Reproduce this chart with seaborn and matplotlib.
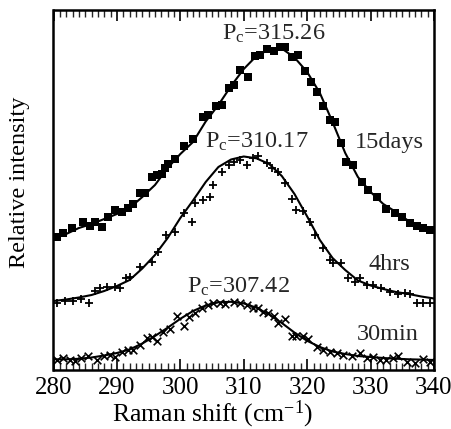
import numpy as np
import pandas as pd
import matplotlib
matplotlib.use("Agg")
import matplotlib.pyplot as plt
from matplotlib.ticker import MultipleLocator
import seaborn as sns

# ---------------- data ----------------
# 15 days: squares
x_15d = [280.5, 281.5, 282.9, 284.7, 285.8, 286.5, 287.6, 288.6, 289.7, 290.8,
         291.8, 292.6, 293.6, 294.4, 295.5, 296.3, 297.1, 297.6, 298.1, 299.2,
         300.6, 302.0, 303.5, 304.4, 305.7, 306.5, 307.6, 308.4, 309.4, 310.6,
         311.8, 312.6, 313.6, 314.7, 315.7, 316.5, 317.6, 318.6, 319.7, 320.6,
         321.5, 322.5, 323.6, 324.4, 325.4, 326.2, 327.3, 328.6, 329.6, 331.0,
         332.5, 333.8, 334.9, 336.2, 337.3, 338.3, 339.4]
y_15d = [132.7, 136.7, 141.7, 148.3, 144.0, 148.3, 143.3, 153.3, 160.0, 158.3,
         161.7, 166.0, 176.7, 176.7, 192.7, 195.0, 196.0, 201.7, 206.0, 210.7,
         224.0, 230.7, 252.7, 255.0, 264.0, 265.0, 281.7, 285.0, 300.0, 292.7,
         314.0, 315.0, 320.7, 319.3, 322.7, 323.3, 313.3, 315.0, 299.3, 288.3,
         278.3, 264.0, 250.0, 248.3, 226.7, 208.3, 205.0, 188.3, 180.0, 173.3,
         160.7, 156.7, 153.3, 146.7, 144.0, 141.7, 140.0]

# 4 hrs: plus signs
x_4h = [280.5, 281.8, 283.1, 284.4, 285.6, 286.5, 287.3, 288.4, 289.7, 290.5,
        291.4, 292.1, 293.6, 295.5, 296.5, 297.8, 299.2, 300.5, 301.8, 302.3,
        303.6, 304.7, 305.2, 306.5, 307.6, 308.4, 309.4, 310.5, 311.5, 312.3,
        313.6, 314.4, 315.4, 316.5, 317.6, 318.3, 319.4, 320.4, 321.2, 322.5,
        323.6, 324.1, 325.4, 326.5, 327.5, 328.3, 329.4, 330.4, 331.7, 333.1,
        334.4, 335.4, 336.2, 337.3, 338.3, 339.4]
y_4h = [67.3, 69.0, 69.3, 71.0, 67.3, 79.0, 81.7, 83.3, 83.3, 81.7,
        91.7, 93.3, 103.3, 108.3, 118.3, 135.0, 138.3, 156.7, 148.3, 166.7,
        170.0, 173.3, 185.0, 198.3, 205.0, 208.3, 210.0, 205.0, 211.7, 214.0,
        206.7, 201.7, 198.3, 187.3, 170.7, 160.0, 159.3, 148.3, 135.0, 121.7,
        110.0, 106.7, 106.7, 91.7, 88.3, 91.7, 85.0, 85.0, 81.7, 78.3,
        76.0, 77.3, 76.0, 67.3, 67.3, 67.3]

# 30 min: crosses
x_30m = [280.5, 281.5, 282.6, 283.4, 284.4, 285.5, 286.8, 287.9, 288.9, 289.7,
         290.8, 291.8, 292.6, 293.6, 294.7, 295.5, 296.3, 297.3, 298.4, 299.4,
         300.5, 301.3, 302.3, 303.4, 304.4, 305.2, 306.3, 307.0, 308.4, 309.4,
         310.5, 311.5, 312.3, 313.1, 313.9, 314.7, 315.4, 316.5, 317.6, 318.3,
         319.4, 320.2, 321.5, 322.5, 323.6, 324.7, 325.7, 327.0, 328.3, 329.4,
         330.4, 331.5, 332.5, 333.6, 334.4, 335.7, 337.0, 338.3, 339.4]
y_30m = [10.0, 11.7, 10.0, 9.3, 11.7, 14.0, 10.0, 14.0, 15.0, 13.3,
         18.3, 20.0, 20.0, 25.0, 31.7, 33.3, 29.3, 38.3, 40.7, 54.0,
         44.0, 53.3, 56.7, 61.7, 65.0, 67.3, 66.7, 66.0, 68.3, 67.3,
         65.0, 61.7, 61.7, 58.3, 57.3, 54.0, 47.3, 50.7, 34.0, 34.0,
         34.0, 30.7, 23.3, 20.0, 18.3, 17.3, 15.0, 14.0, 17.3, 11.7,
         13.3, 10.0, 10.0, 11.7, 14.0, 8.3, 7.3, 10.7, 8.3]

# fitted curves
fit_x = [280, 282, 284, 286, 288, 290, 292, 294, 296, 298, 300, 302, 304, 306,
         308, 310, 312, 314, 316, 318, 320, 322, 324, 326, 328, 330, 332, 334,
         336, 338, 340]
fit_15d = [132, 136, 142, 146, 151, 156, 162, 173, 185, 202, 216, 228, 248.5,
           265, 284, 301, 314, 320.5, 321.5, 312.5, 298, 277, 248, 217, 193,
           178, 166, 158, 149, 144, 140]
fit_4h = [69, 70.5, 72.5, 75, 79, 84, 90, 101.5, 115, 132, 152, 169.5, 188,
          203, 210.5, 213.5, 211.7, 206, 194, 176, 153.5, 130, 112, 100, 89.5,
          84.5, 81, 78, 76, 73.5, 71.5]
fit_30m = [10.7, 10.7, 11.2, 12.5, 14.5, 17, 20.5, 26.5, 34, 42.3, 51.2, 59,
           64.5, 67.7, 68.2, 66.6, 62.3, 55.5, 47, 37.4, 29.2, 23, 18.5, 16,
           14, 13, 12, 11.3, 10.7, 10.4, 10]

x_ticks = [280, 290, 300, 310, 320, 330, 340]

# ---------------- figure ----------------
sns.set_style("ticks")
plt.rcParams['font.family'] = ['Liberation Serif', 'DejaVu Serif']
plt.rcParams['mathtext.fontset'] = 'custom'
plt.rcParams['mathtext.rm'] = 'Liberation Serif'
plt.rcParams['mathtext.it'] = 'Liberation Serif:italic'

fig = plt.figure(figsize=(4.52, 4.29), dpi=100)
ax = fig.add_axes([53.5 / 452, 59 / 429, 380.5 / 452, 360 / 429])

pts = pd.concat([
    pd.DataFrame({'x': x_15d, 'y': y_15d, 's': '15days'}),
    pd.DataFrame({'x': x_4h, 'y': y_4h, 's': '4hrs'}),
    pd.DataFrame({'x': x_30m, 'y': y_30m, 's': '30min'}),
])
fits = pd.concat([
    pd.DataFrame({'x': fit_x, 'y': fit_15d, 's': '15days'}),
    pd.DataFrame({'x': fit_x, 'y': fit_4h, 's': '4hrs'}),
    pd.DataFrame({'x': fit_x, 'y': fit_30m, 's': '30min'}),
])

for s in ['15days', '4hrs', '30min']:
    sns.lineplot(data=fits[fits.s == s], x='x', y='y', color='black',
                 linewidth=1.5, ax=ax, legend=False, sort=True)

sns.scatterplot(data=pts[pts.s == '15days'], x='x', y='y', marker='s',
                color='black', s=30, linewidth=0, ax=ax, legend=False)
sns.scatterplot(data=pts[pts.s == '4hrs'], x='x', y='y', marker='+',
                color='black', s=40, linewidth=1.3, ax=ax, legend=False)
sns.scatterplot(data=pts[pts.s == '30min'], x='x', y='y', marker='x',
                color='black', s=30, linewidth=1.2, ax=ax, legend=False)

ax.set_xlim(280, 340)
ax.set_ylim(0, 360)
ax.set_xticks(x_ticks)
ax.set_xticklabels([str(t) for t in x_ticks])
ax.xaxis.set_minor_locator(MultipleLocator(1))
ax.set_yticks([])
ax.tick_params(axis='x', which='major', direction='in', length=8, width=1.2,
               top=True, bottom=True, labelsize=18, pad=5, colors='black')
ax.tick_params(axis='x', which='minor', direction='in', length=5, width=1.0,
               top=True, bottom=True)
for sp in ax.spines.values():
    sp.set_linewidth(1.8)
    sp.set_color('black')

ax.set_xlabel('Raman shift (cm$^{-1}$)', fontsize=18.5, color='black')
ax.xaxis.set_label_coords(0.4166, -0.08)
ax.xaxis.label.set_va('top')
ax.set_ylabel('Relative intensity', fontsize=17.5, color='black')
ax.yaxis.set_label_coords(-0.062, 0.522)

fs = 17.5
ax.text(306.5, 330, 'P$_{\\rm c}$=315.26', fontsize=fs, ha='left', va='baseline')
ax.text(303.9, 222.7, 'P$_{\\rm c}$=310.17', fontsize=fs, ha='left', va='baseline')
ax.text(301.0, 77.3, 'P$_{\\rm c}$=307.42', fontsize=fs, ha='left', va='baseline')
ax.text(327.5, 222.0, '15days', fontsize=fs, ha='left', va='baseline')
ax.text(329.6, 100.5, '4hrs', fontsize=fs, ha='left', va='baseline')
ax.text(327.8, 30.3, '30min', fontsize=fs, ha='left', va='baseline')

fig.savefig('out.png', dpi=100)
